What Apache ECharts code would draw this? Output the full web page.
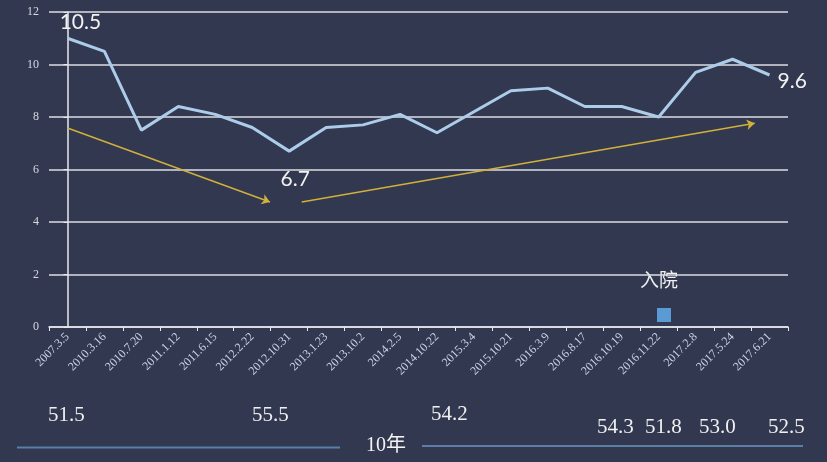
<!DOCTYPE html>
<html>
<head>
<meta charset="utf-8">
<script src="https://cdn.jsdelivr.net/npm/echarts@6/dist/echarts.min.js"></script>
<style>
  html, body { margin: 0; padding: 0; background: #31384f; }
  #chart { width: 827px; height: 462px; }
</style>
</head>
<body>
<div id="chart"></div>
<script>
// Visit dates along the x axis
const dates = ['2007.3.5', '2010.3.16', '2010.7.20', '2011.1.12', '2011.6.15', '2012.2.22',
  '2012.10.31', '2013.1.23', '2013.10.2', '2014.2.5', '2014.10.22', '2015.3.4', '2015.10.21',
  '2016.3.9', '2016.8.17', '2016.10.19', '2016.11.22', '2017.2.8', '2017.5.24', '2017.6.21'];

// Measured values per visit
const values = [11.0, 10.5, 7.5, 8.4, 8.1, 7.6, 6.7, 7.6, 7.7, 8.1, 7.4, 8.2, 9.0, 9.1, 8.4, 8.4, 8.0, 9.7, 10.2, 9.6];

// Visits whose value is printed next to the line: [index, label offset x, y, position]
const labelled = [[1, -24, -14, 'top'], [6, 6, 13, 'bottom'], [19, 3, 6, 'right']];

// Trend arrows in (category position, value) space
const trendArrows = [
  [[0.0, 7.58], [5.48, 4.76]],
  [[6.34, 4.76], [18.6, 7.76]]
];

// Figures printed below the axis and the period caption
const bottomFigures = [['51.5', 48, 418], ['55.5', 252, 418], ['54.2', 431, 417],
  ['54.3', 597, 430], ['51.8', 645, 430], ['53.0', 699, 430], ['52.5', 768, 430]];
const periodCaption = '10年';
const seriesName = '入院';

const yTicks = { min: 0, max: 12, interval: 2 };

const chart = echarts.init(document.getElementById('chart'));

const lineData = values.map((v, i) => {
  const l = labelled.find(d => d[0] === i);
  if (!l) return v;
  return {
    value: v,
    label: {
      show: true, position: l[3], offset: [l[1], l[2]],
      formatter: v.toFixed(1),
      color: '#f2f2f2', fontSize: 21, fontFamily: 'Lato'
    }
  };
});

const graphics = bottomFigures.map(([t, x, y]) => ({
  type: 'text', left: x, top: y - 13,
  style: { text: t, fill: '#f0f0f0', font: '21px "Liberation Serif"' }
}));
graphics.push(
  { type: 'line', shape: { x1: 17, y1: 447.5, x2: 340, y2: 447.5 }, style: { stroke: '#5b7fa6', lineWidth: 2 } },
  { type: 'line', shape: { x1: 422, y1: 446, x2: 803, y2: 446 }, style: { stroke: '#5b7fa6', lineWidth: 2 } },
  { type: 'text', left: 366, top: 436, style: { text: periodCaption, fill: '#f4f4f4', font: '20px "Liberation Serif", "Noto Sans CJK SC"' } },
  { type: 'text', left: 640, top: 270, style: { text: seriesName, fill: '#f0f0f0', font: '19px "Noto Sans CJK SC"' } }
);

chart.setOption({
  backgroundColor: '#31384f',
  animation: false,
  grid: { left: 49, right: 39, top: 12, bottom: 135 },
  legend: {
    left: 652, top: 303, itemWidth: 14, itemHeight: 14,
    data: [{ name: seriesName, icon: 'rect', itemStyle: { color: '#5b9bd5' } }],
    formatter: () => '',
    selectedMode: false
  },
  xAxis: [{
    type: 'category', data: dates, boundaryGap: true,
    axisLine: { lineStyle: { color: '#e8e8ee', width: 1.5 } },
    axisTick: { show: true, length: 4, lineStyle: { color: '#e8e8ee' } },
    axisLabel: { rotate: 45, fontSize: 12, color: '#c6d2e2', fontFamily: 'Liberation Serif', margin: 8 }
  }, {
    type: 'value', min: -0.5, max: 19.5, show: false
  }],
  yAxis: {
    type: 'value', min: yTicks.min, max: yTicks.max, interval: yTicks.interval,
    axisLine: { show: true, lineStyle: { color: '#e8e8ee', width: 1.5 } },
    axisTick: { show: true, length: 4, lineStyle: { color: '#e8e8ee' } },
    axisLabel: { fontSize: 12, color: '#d8d8e2', fontFamily: 'Liberation Serif', margin: 10 },
    splitLine: { lineStyle: { color: '#dcdce4', width: 1.5 } }
  },
  series: [{
    name: seriesName, type: 'line', data: lineData,
    symbol: 'circle', symbolSize: 0, showSymbol: true,
    lineStyle: { color: '#acccea', width: 3 },
    itemStyle: { color: '#acccea' }
  }, {
    name: 'trend', type: 'lines', coordinateSystem: 'cartesian2d',
    xAxisIndex: 1, yAxisIndex: 0,
    symbol: ['none', 'arrow'], symbolSize: 8,
    lineStyle: { color: '#d2b03c', width: 1.5, opacity: 1 },
    data: trendArrows.map(c => ({ coords: c }))
  }],
  graphic: graphics
});
</script>
</body>
</html>
